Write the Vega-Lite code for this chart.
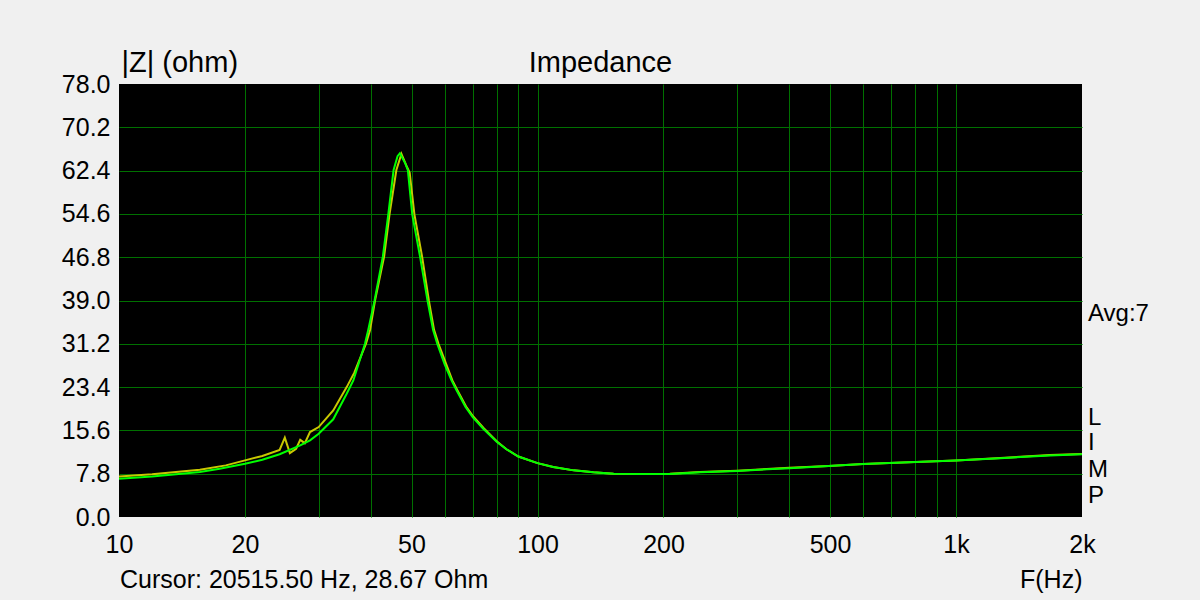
{
  "$schema": "https://vega.github.io/schema/vega-lite/v6.json",
  "width": 963,
  "height": 433,
  "autosize": {"type": "none"},
  "padding": {"left": 119, "top": 84, "right": 118, "bottom": 83},
  "background": "#f0f0f0",
  "config": {"view": {"fill": "#000000", "stroke": null}, "font": "Liberation Sans"},
  "title": {"text": "Impedance", "fontSize": 29, "fontWeight": "normal", "color": "#000000", "anchor": "middle", "frame": "group", "baseline": "alphabetic", "offset": -53},
  "datasets": {
    "yellow": [
      {"f": 10, "z": 7.3}, {"f": 12, "z": 7.7}, {"f": 15.6, "z": 8.5}, {"f": 18, "z": 9.3},
      {"f": 20, "z": 10.2}, {"f": 22, "z": 11.0}, {"f": 24.2, "z": 12.1}, {"f": 24.9, "z": 14.3},
      {"f": 25.6, "z": 11.5}, {"f": 26.5, "z": 12.3}, {"f": 27.1, "z": 13.9}, {"f": 27.8, "z": 13.3},
      {"f": 28.6, "z": 15.3}, {"f": 30, "z": 16.2}, {"f": 32.5, "z": 19.2}, {"f": 35, "z": 23.4},
      {"f": 36.5, "z": 26.0}, {"f": 38.9, "z": 31.2}, {"f": 39.8, "z": 33.7}, {"f": 40.9, "z": 39.0},
      {"f": 43.0, "z": 46.9}, {"f": 44.3, "z": 54.5}, {"f": 46.0, "z": 62.5}, {"f": 47.3, "z": 65.4},
      {"f": 48.8, "z": 63.0}, {"f": 49.5, "z": 62.0}, {"f": 50.8, "z": 54.5}, {"f": 53.0, "z": 46.9},
      {"f": 55.0, "z": 39.0}, {"f": 56.6, "z": 33.7}, {"f": 58, "z": 31.2}, {"f": 62.6, "z": 24.6},
      {"f": 64.3, "z": 22.9}, {"f": 67.5, "z": 19.9}, {"f": 70.2, "z": 18.1}, {"f": 74.4, "z": 16.0},
      {"f": 80, "z": 13.6}, {"f": 84.3, "z": 12.2}, {"f": 90, "z": 10.9}, {"f": 100, "z": 9.7},
      {"f": 109, "z": 9.0}, {"f": 122, "z": 8.4}, {"f": 136, "z": 8.06}, {"f": 152, "z": 7.8},
      {"f": 176, "z": 7.75}, {"f": 207, "z": 7.8}, {"f": 245, "z": 8.1}, {"f": 300, "z": 8.35},
      {"f": 400, "z": 8.85}, {"f": 496, "z": 9.2}, {"f": 600, "z": 9.55}, {"f": 800, "z": 9.9},
      {"f": 1000, "z": 10.2}, {"f": 1276, "z": 10.65}, {"f": 1677, "z": 11.15}, {"f": 2000, "z": 11.35}
    ],
    "green": [
      {"f": 10, "z": 6.9}, {"f": 12, "z": 7.3}, {"f": 15.6, "z": 8.1}, {"f": 17.4, "z": 8.7},
      {"f": 20, "z": 9.6}, {"f": 22, "z": 10.3}, {"f": 24.2, "z": 11.3}, {"f": 27.1, "z": 12.9},
      {"f": 28.6, "z": 13.8}, {"f": 30, "z": 15.0}, {"f": 32.5, "z": 17.6}, {"f": 35, "z": 22.2},
      {"f": 36.3, "z": 24.6}, {"f": 38.7, "z": 31.2}, {"f": 39.4, "z": 33.7}, {"f": 40.8, "z": 39.0},
      {"f": 42.7, "z": 46.9}, {"f": 44.0, "z": 54.5}, {"f": 45.3, "z": 62.5}, {"f": 46.3, "z": 65.0},
      {"f": 46.9, "z": 65.5}, {"f": 48.3, "z": 63.7}, {"f": 49.0, "z": 62.5}, {"f": 50.2, "z": 54.5},
      {"f": 52.4, "z": 46.9}, {"f": 54.6, "z": 39.0}, {"f": 56.3, "z": 33.7}, {"f": 57.6, "z": 31.2},
      {"f": 60, "z": 27.5}, {"f": 62.3, "z": 24.6}, {"f": 64.1, "z": 22.8}, {"f": 67.3, "z": 19.8},
      {"f": 70, "z": 18.0}, {"f": 74.2, "z": 15.9}, {"f": 80, "z": 13.5}, {"f": 84.3, "z": 12.2},
      {"f": 90, "z": 10.9}, {"f": 100, "z": 9.7}, {"f": 109, "z": 9.0}, {"f": 122, "z": 8.4},
      {"f": 136, "z": 8.06}, {"f": 152, "z": 7.8}, {"f": 176, "z": 7.75}, {"f": 207, "z": 7.75},
      {"f": 245, "z": 8.06}, {"f": 300, "z": 8.3}, {"f": 400, "z": 8.8}, {"f": 496, "z": 9.2},
      {"f": 600, "z": 9.55}, {"f": 800, "z": 9.9}, {"f": 1000, "z": 10.2}, {"f": 1276, "z": 10.6},
      {"f": 1677, "z": 11.1}, {"f": 2000, "z": 11.3}
    ],
    "side": [
      {"f": 2000, "z": 36.5, "label": "Avg:7"},
      {"f": 2000, "z": 17.8, "label": "L"},
      {"f": 2000, "z": 13.4, "label": "I"},
      {"f": 2000, "z": 8.4, "label": "M"},
      {"f": 2000, "z": 3.7, "label": "P"}
    ],
    "cursor": [
      {"f": 10, "z": 0, "label": "Cursor: 20515.50 Hz, 28.67 Ohm"}
    ]
  },
  "encoding": {
    "x": {
      "field": "f", "type": "quantitative",
      "scale": {"type": "log", "domain": [10, 2000]},
      "axis": {
        "values": [10, 20, 30, 40, 50, 60, 70, 80, 90, 100, 200, 300, 400, 500, 600, 700, 800, 900, 1000, 2000],
        "labelExpr": "indexof([10,20,50,100,200,500,1000,2000], datum.value) >= 0 ? (datum.value >= 1000 ? format(datum.value/1000, 'd') + 'k' : format(datum.value, 'd')) : ''",
        "labelOverlap": false, "labelFlush": false, "labelBound": false,
        "ticks": false, "domain": false,
        "grid": true, "gridColor": "#007000", "gridWidth": 1,
        "gridOpacity": {"condition": {"test": "datum.value == 10 || datum.value == 2000", "value": 0}, "value": 1},
        "labelFontSize": 25, "labelColor": "#000000", "labelBaseline": "alphabetic", "labelPadding": 35,
        "title": "F(Hz)", "titleFontSize": 25, "titleFontWeight": "normal", "titleColor": "#000000",
        "titleAnchor": "end", "titleAlign": "right", "titleBaseline": "alphabetic", "titleX": 963, "titleY": 70
      }
    },
    "y": {
      "field": "z", "type": "quantitative",
      "scale": {"domain": [0, 78], "nice": false, "zero": false},
      "axis": {
        "values": [0, 7.8, 15.6, 23.4, 31.2, 39, 46.8, 54.6, 62.4, 70.2, 78],
        "format": ".1f",
        "ticks": false, "domain": false,
        "grid": true, "gridColor": "#007000", "gridWidth": 1,
        "gridOpacity": {"condition": {"test": "datum.value == 0 || datum.value == 78", "value": 0}, "value": 1},
        "labelFontSize": 25, "labelColor": "#000000", "labelPadding": 9,
        "title": "|Z| (ohm)", "titleFontSize": 29, "titleFontWeight": "normal", "titleColor": "#000000",
        "titleAngle": 0, "titleAlign": "left", "titleBaseline": "alphabetic", "titleX": 2, "titleY": -13
      }
    }
  },
  "layer": [
    {"data": {"name": "yellow"}, "mark": {"type": "line", "color": "#c8c800", "strokeWidth": 2, "clip": true}},
    {"data": {"name": "green"}, "mark": {"type": "line", "color": "#00ff00", "strokeWidth": 2, "clip": true}},
    {"data": {"name": "side"}, "mark": {"type": "text", "align": "left", "baseline": "middle", "dx": 6, "fontSize": 24, "color": "#000000"}, "encoding": {"text": {"field": "label"}}},
    {"data": {"name": "cursor"}, "mark": {"type": "text", "align": "left", "baseline": "alphabetic", "dx": 1, "dy": 71, "fontSize": 25, "color": "#000000"}, "encoding": {"text": {"field": "label"}}}
  ]
}
